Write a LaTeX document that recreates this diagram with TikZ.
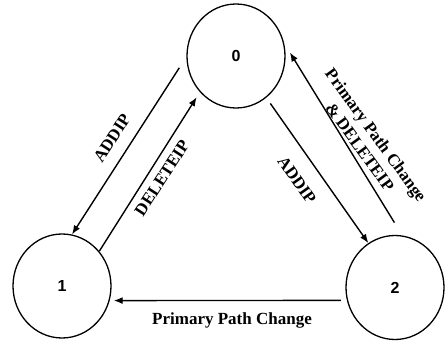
\documentclass[tikz,border=0pt]{standalone}
\usepackage{fontspec}
\setmainfont{Liberation Serif}
\setsansfont{Liberation Sans}
\usetikzlibrary{positioning,arrows.meta,shapes.geometric}

\begin{document}
\begin{tikzpicture}[x=1pt,y=1pt,
		state/.style = {draw, ellipse, line width=1.3pt, minimum width=98pt, minimum height=104pt, inner sep=0pt, font=\sffamily\bfseries\fontsize{16}{18}\selectfont},
		trans/.style = {line width=1.4pt, -{Latex[length=9pt,width=7pt]}},
		lbl/.style = {font=\bfseries\fontsize{17}{20}\selectfont, align=center, inner sep=0pt},
	]
		\useasboundingbox (0,0) rectangle (446,343);
		
		\node [state] (s0) at (236,287) {0};
		\node [state, on grid, below left = 230pt and 174pt of s0] (s1) {1};
		\node [state, on grid, right = 333pt of s1, yshift=-1.5pt] (s2) {2};
		
		\draw [trans, shorten <=13pt] (s0.181) -- (s1.79);
		\draw [trans, shorten >=6pt] (s1.43) -- (s0.225);
		\draw [trans, shorten <=7pt] (s0.306) -- (s2.121);
		\draw [trans, shorten <=15pt, shorten >=11pt] (s2.82) -- (s0.15);
		\draw [trans, shorten <=6pt, shorten >=4pt] (s2.195) -- (s1.343);
		
		\node [lbl, rotate=57] (addip1) at (112,205) {ADDIP};
		\node [lbl, rotate=57] (delip) at (162,165) {DELETEIP};
		\node [lbl, rotate=-55] (addip2) at (297,163) {ADDIP};
		\node [lbl, rotate=-54] (ppcdel) at (368,202) {Primary Path Change\\ \& DELETEIP};
		\node [lbl, anchor=base] (ppc) at (232,19) {Primary Path Change};
		
	\end{tikzpicture}
\end{document}
